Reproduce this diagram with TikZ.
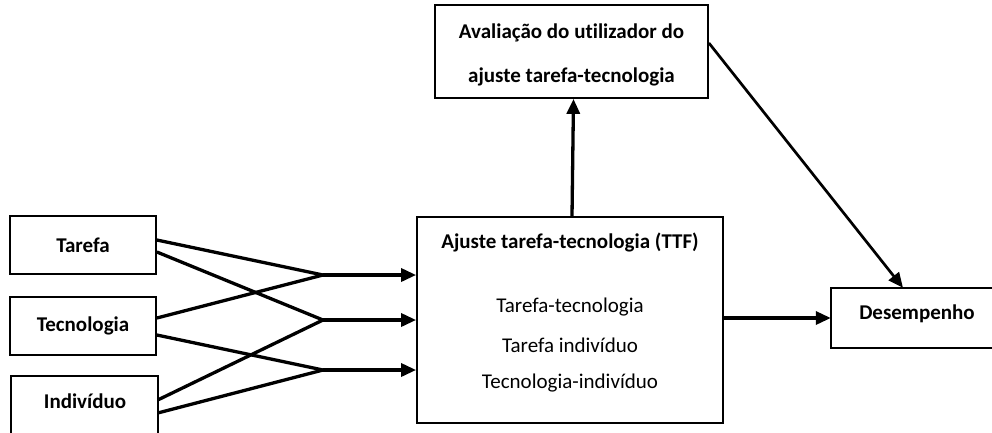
\documentclass[tikz,border=0pt]{standalone}
\usepackage{fontspec}
\setmainfont{Carlito}[Ligatures={NoCommon}]
\usetikzlibrary{arrows.meta,calc}
\begin{document}
\begin{tikzpicture}[x=1pt,y=-1pt,
  box/.style={draw,line width=1.8pt,inner sep=0pt,minimum width=#1},
  lbl/.style={font=\fontsize{21}{25}\selectfont\bfseries,inner sep=0pt},
  txt/.style={font=\fontsize{21}{25}\selectfont,inner sep=0pt},
  edge/.style={line width=1.8pt},
  link/.style={line width=3.3pt},
  arr/.style={line width=3.3pt,-{Triangle[length=15pt,width=13pt]}},
  darr/.style={line width=2.7pt,-{Triangle[length=15pt,width=13pt]}}]
\useasboundingbox (0,0) rectangle (992,432);
% left boxes
\node[box=146pt,minimum height=58pt,lbl] (tar) at (83,245) {Tarefa};
\node[box=146pt,minimum height=58pt,lbl] (tec) at (83,326) {Tecnologia};
\node[inner sep=0pt,minimum width=146pt,minimum height=70pt] (ind) at (84.5,411) {};
\draw[edge] (ind.south west) -- (ind.north west) -- (ind.north east) -- (ind.south east);
\node[lbl] (indt) at (85,401) {Indivíduo};
% TTF box
\node[box=306pt,minimum height=206pt] (ttf) at (570,320) {};
\node[lbl] (ttft) at (570,242) {Ajuste tarefa-tecnologia (TTF)};
\node[txt] (l1) at (570,307) {Tarefa-tecnologia};
\node[txt] (l2) at (570,345) {Tarefa indivíduo};
\node[txt] (l3) at (570,383) {Tecnologia-indivíduo};
% top box
\node[box=273pt,minimum height=93pt] (top) at (571.5,51.5) {};
\node[lbl] (topa) at (571.5,33) {Avaliação do utilizador do};
\node[lbl] (topb) at (571.5,77) {ajuste tarefa-tecnologia};
% Desempenho
\node[inner sep=0pt,minimum width=180pt,minimum height=60pt] (des) at (921,318) {};
\draw[edge] (des.north east) -- (des.north west) -- (des.south west) -- (des.south east);
\node[lbl] (dest) at (917,314) {Desempenho};
% junctions
\coordinate (j1) at (323,275);
\coordinate (j2) at (323,320);
\coordinate (j3) at (323,370);
\draw[link] ([yshift=5pt]tar.east) -- (j1);
\draw[link] ([yshift=-7pt]tar.east) -- (j2);
\draw[link] ([yshift=8pt]tec.east) -- (j1);
\draw[link] ([yshift=-9pt]tec.east) -- (j3);
\draw[link] ([yshift=11pt]ind.east) -- (j2);
\draw[link] ([yshift=-2pt]ind.east) -- (j3);
\draw[arr] (j1) -- (j1 -| ttf.west);
\draw[arr] (j2) -- (j2 -| ttf.west);
\draw[arr] (j3) -- (j3 -| ttf.west);
% other arrows
\draw[arr] ([xshift=2pt]ttf.north) -- ([xshift=2pt]top.south);
\draw[arr] (ttf.east |- des.west) -- (des.west);
\draw[darr] ([yshift=8.5pt]top.east) -- ([xshift=-18pt]des.north);
\end{tikzpicture}
\end{document}
